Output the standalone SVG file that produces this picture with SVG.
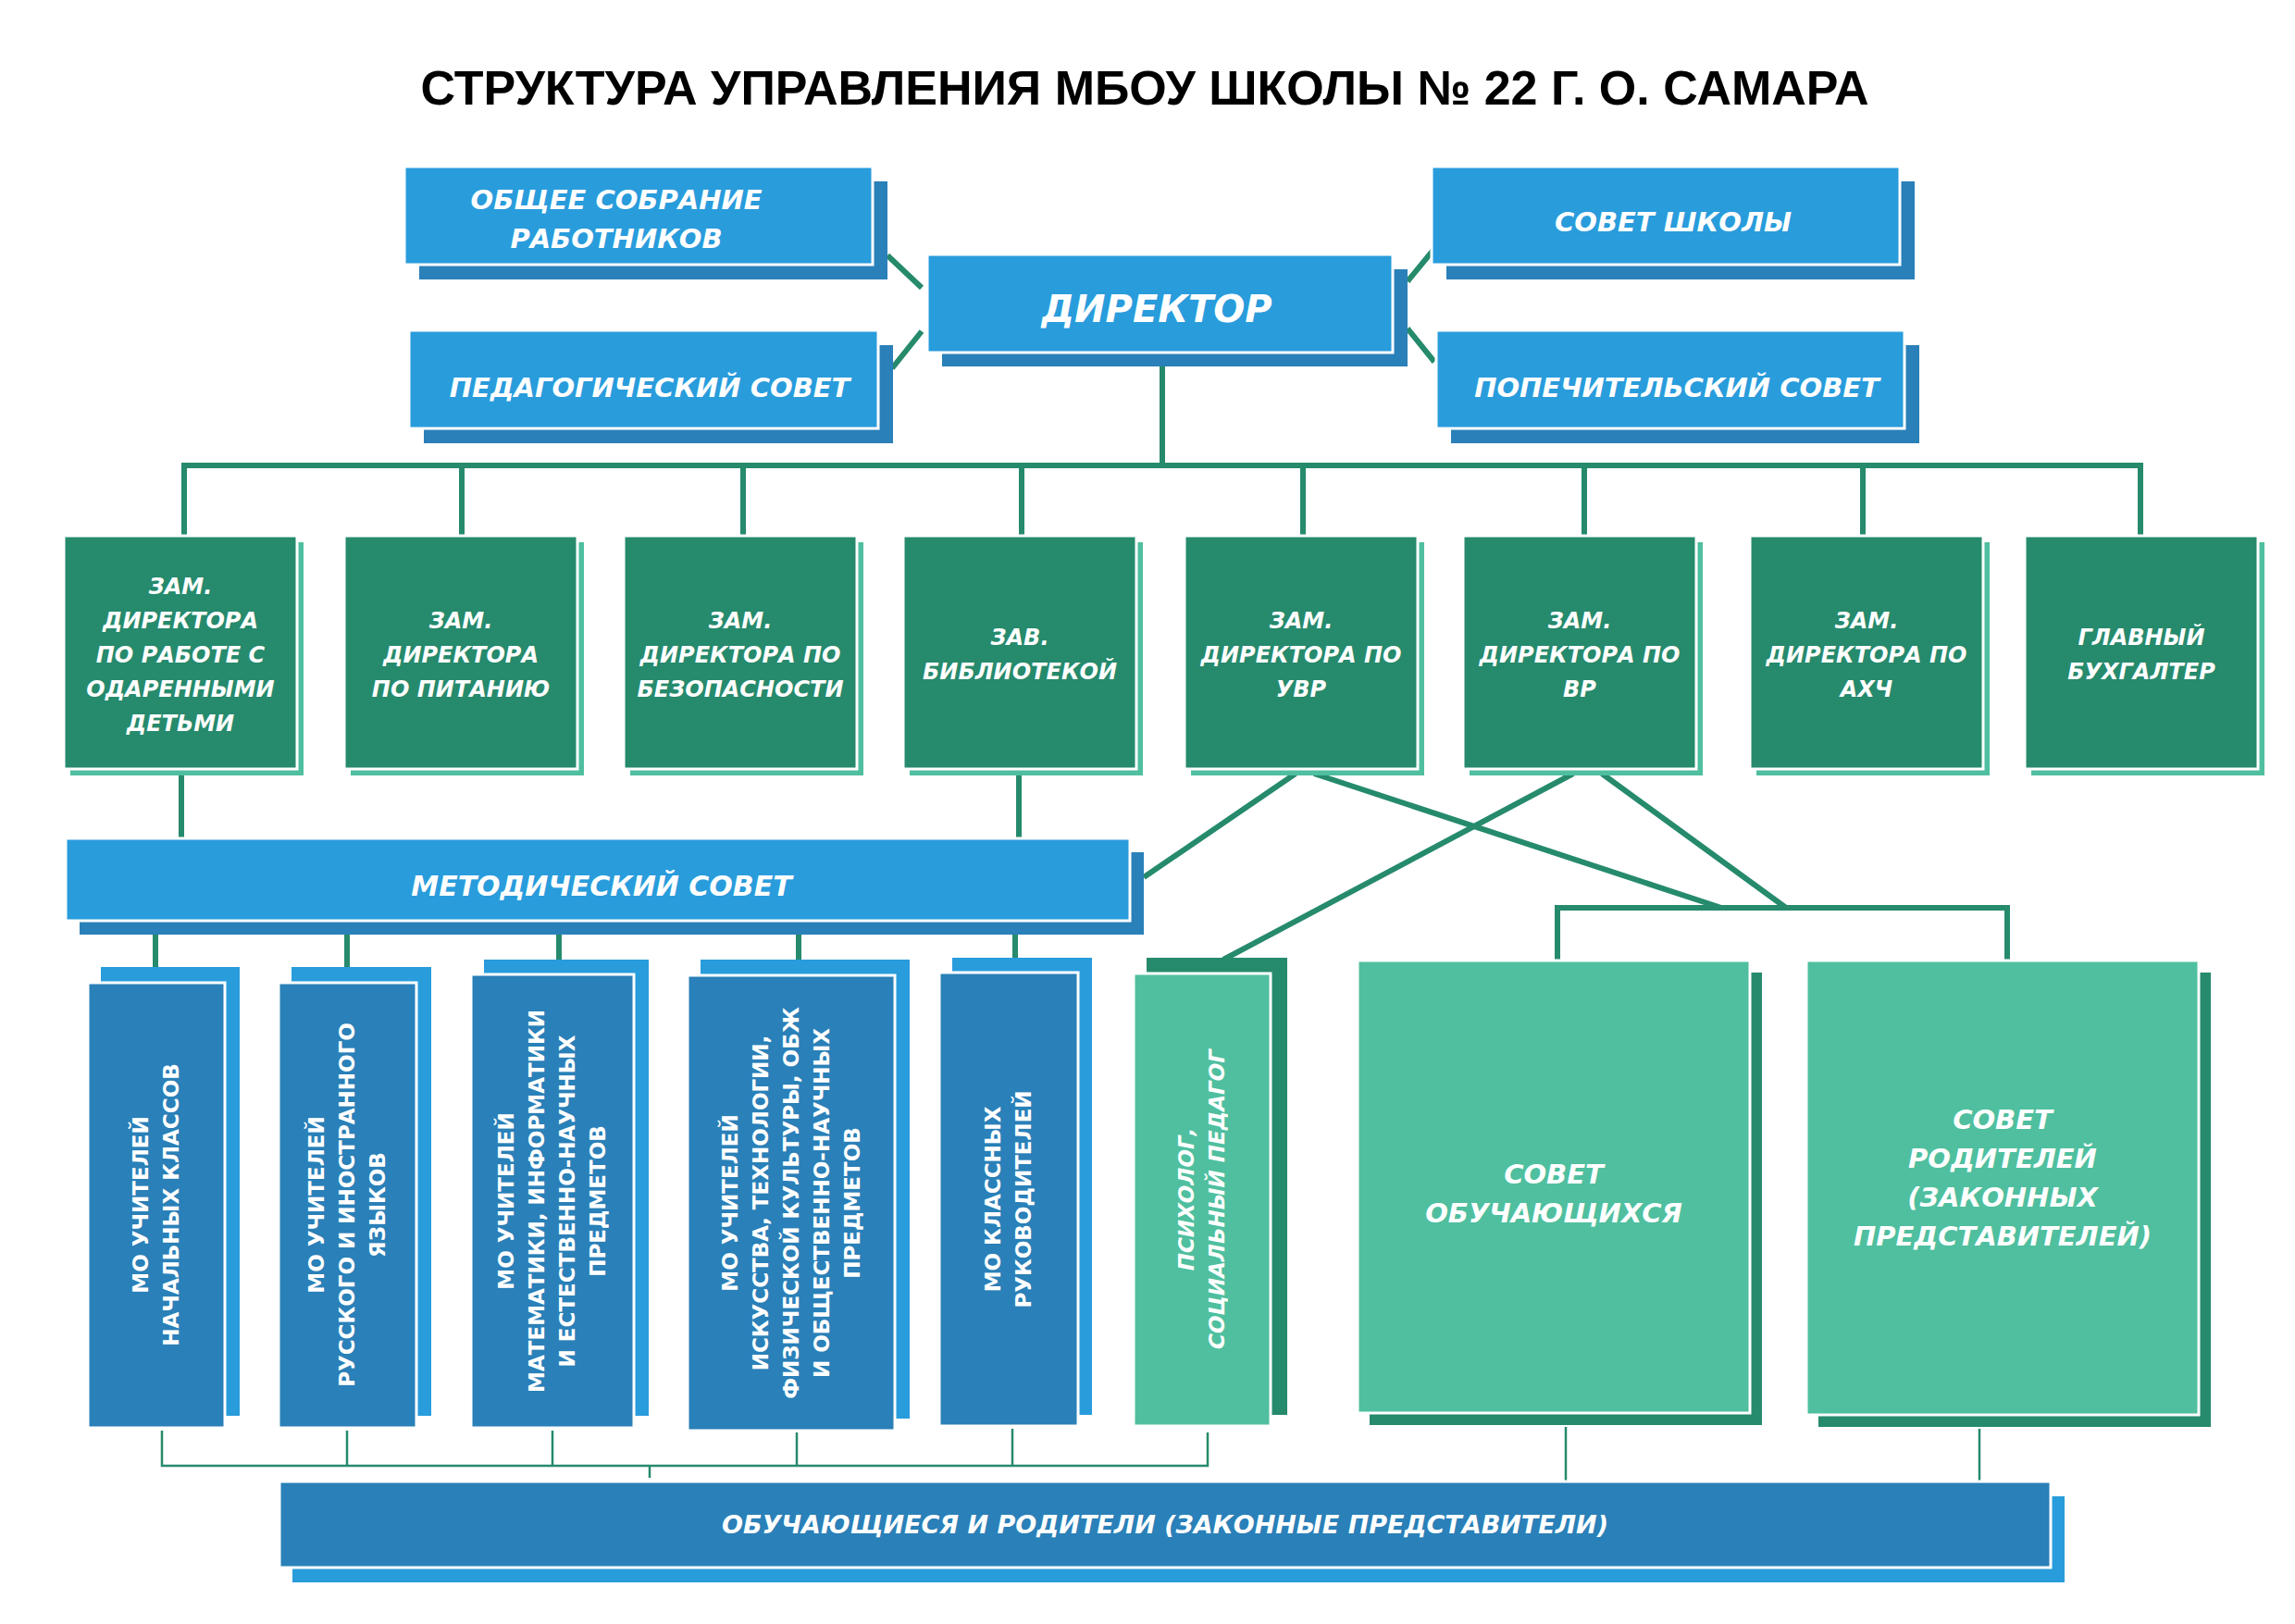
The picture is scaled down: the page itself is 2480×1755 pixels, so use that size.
<svg xmlns="http://www.w3.org/2000/svg" width="2480" height="1755" viewBox="0 0 2480 1755">
<style>
.lb{fill:#299cdc}
.db{fill:#2a80b8}
.gr{fill:#268a6d}
.lg{fill:#4fbf9f}
.f{stroke:#fff;stroke-width:3}
.t{font-family:"DejaVu Sans",sans-serif;font-weight:bold;font-style:italic;fill:#fff;text-anchor:middle}
.v{font-family:"DejaVu Sans",sans-serif;font-weight:bold;fill:#fff;text-anchor:middle;font-size:23px}
.c{fill:none;stroke:#268a6d;stroke-width:6}
.thin{fill:none;stroke:#268a6d;stroke-width:2.5}
</style>
<rect width="2480" height="1755" fill="#fff"/>
<text x="1237" y="113" font-family="Liberation Sans, Arial, sans-serif" font-weight="bold" font-size="52" text-anchor="middle" fill="#000">СТРУКТУРА УПРАВЛЕНИЯ МБОУ ШКОЛЫ № 22 Г. О. САМАРА</text>

<g id="connectors">
<path class="c" d="M959 276 L996 311 M964 398 L996 358 M1521 304 L1549 270 M1521 355 L1550 391"/>
<path class="c" d="M1256 381 V503 M199 503 H2313 M199 500 V579 M499 503 V579 M803 503 V579 M1104 503 V579 M1408 503 V579 M1712 503 V579 M2013 503 V579 M2313 500 V579"/>
<path class="c" d="M196 831 V906 M1101 831 V906"/>
<path class="c" d="M168 1010 V1045 M375 1010 V1045 M604 1010 V1037 M863 1010 V1037 M1097 1010 V1035"/>
<path class="c" d="M1400 836 L1236 948 M1420 836 L1860 981 M1700 836 L1322 1037 M1731 836 L1930 981 M1683 1038 V981 H2169 V1038"/>
<path class="thin" d="M175 1546 V1584 H1305 V1548 M375 1546 V1584 M597 1546 V1584 M861 1548 V1584 M1094 1544 V1584 M702 1584 V1597 M1692 1542 V1600 M2139 1544 V1600"/>
</g>

<g id="obshee"><rect class="db" x="453" y="196" width="506" height="106"/><rect class="lb f" x="437" y="180" width="506" height="106"/>
<text class="t" font-size="29"><tspan x="666" y="226">ОБЩЕЕ СОБРАНИЕ</tspan><tspan x="666" y="268">РАБОТНИКОВ</tspan></text></g>
<g id="pedsovet"><rect class="db" x="458" y="373" width="507" height="106"/><rect class="lb f" x="442" y="357" width="507" height="106"/>
<text class="t" font-size="29" x="702" y="429">ПЕДАГОГИЧЕСКИЙ СОВЕТ</text></g>
<g id="director"><rect class="db" x="1018" y="291" width="503" height="105"/><rect class="lb f" x="1002" y="275" width="503" height="106"/>
<text class="t" font-size="40" x="1250" y="348">ДИРЕКТОР</text></g>
<g id="sovet-shkoly"><rect class="db" x="1563" y="196" width="506" height="106"/><rect class="lb f" x="1547" y="180" width="506" height="106"/>
<text class="t" font-size="29" x="1808" y="250">СОВЕТ ШКОЛЫ</text></g>
<g id="popech"><rect class="db" x="1568" y="373" width="506" height="106"/><rect class="lb f" x="1552" y="357" width="506" height="106"/>
<text class="t" font-size="29" x="1812" y="429">ПОПЕЧИТЕЛЬСКИЙ СОВЕТ</text></g>

<g id="z1"><rect class="lg" x="76" y="586" width="252" height="252"/><rect class="gr f" x="69" y="579" width="252" height="252"/>
<text class="t" font-size="24"><tspan x="195" y="642">ЗАМ.</tspan><tspan x="195" y="679">ДИРЕКТОРА</tspan><tspan x="195" y="716">ПО РАБОТЕ С</tspan><tspan x="195" y="753">ОДАРЕННЫМИ</tspan><tspan x="195" y="790">ДЕТЬМИ</tspan></text></g>
<g id="z2"><rect class="lg" x="379" y="586" width="252" height="252"/><rect class="gr f" x="372" y="579" width="252" height="252"/>
<text class="t" font-size="24"><tspan x="498" y="679">ЗАМ.</tspan><tspan x="498" y="716">ДИРЕКТОРА</tspan><tspan x="498" y="753">ПО ПИТАНИЮ</tspan></text></g>
<g id="z3"><rect class="lg" x="681" y="586" width="252" height="252"/><rect class="gr f" x="674" y="579" width="252" height="252"/>
<text class="t" font-size="24"><tspan x="800" y="679">ЗАМ.</tspan><tspan x="800" y="716">ДИРЕКТОРА ПО</tspan><tspan x="800" y="753">БЕЗОПАСНОСТИ</tspan></text></g>
<g id="z4"><rect class="lg" x="983" y="586" width="252" height="252"/><rect class="gr f" x="976" y="579" width="252" height="252"/>
<text class="t" font-size="24"><tspan x="1102" y="697">ЗАВ.</tspan><tspan x="1102" y="734">БИБЛИОТЕКОЙ</tspan></text></g>
<g id="z5"><rect class="lg" x="1287" y="586" width="252" height="252"/><rect class="gr f" x="1280" y="579" width="252" height="252"/>
<text class="t" font-size="24"><tspan x="1406" y="679">ЗАМ.</tspan><tspan x="1406" y="716">ДИРЕКТОРА ПО</tspan><tspan x="1406" y="753">УВР</tspan></text></g>
<g id="z6"><rect class="lg" x="1588" y="586" width="252" height="252"/><rect class="gr f" x="1581" y="579" width="252" height="252"/>
<text class="t" font-size="24"><tspan x="1707" y="679">ЗАМ.</tspan><tspan x="1707" y="716">ДИРЕКТОРА ПО</tspan><tspan x="1707" y="753">ВР</tspan></text></g>
<g id="z7"><rect class="lg" x="1898" y="586" width="252" height="252"/><rect class="gr f" x="1891" y="579" width="252" height="252"/>
<text class="t" font-size="24"><tspan x="2017" y="679">ЗАМ.</tspan><tspan x="2017" y="716">ДИРЕКТОРА ПО</tspan><tspan x="2017" y="753">АХЧ</tspan></text></g>
<g id="z8"><rect class="lg" x="2195" y="586" width="252" height="252"/><rect class="gr f" x="2188" y="579" width="252" height="252"/>
<text class="t" font-size="24"><tspan x="2314" y="697">ГЛАВНЫЙ</tspan><tspan x="2314" y="734">БУХГАЛТЕР</tspan></text></g>

<g id="metod"><rect class="db" x="86" y="921" width="1150" height="89"/><rect class="lb f" x="71" y="906" width="1150" height="89"/>
<text class="t" font-size="30" x="650" y="968">МЕТОДИЧЕСКИЙ СОВЕТ</text></g>

<g id="mo1"><rect class="lb" x="109" y="1045" width="150" height="485"/><rect class="db f" x="95" y="1062" width="148" height="481"/>
<text class="v" transform="translate(169 1302) rotate(-90)"><tspan x="0" y="-9">МО УЧИТЕЛЕЙ</tspan><tspan x="0" y="24">НАЧАЛЬНЫХ КЛАССОВ</tspan></text></g>
<g id="mo2"><rect class="lb" x="315" y="1045" width="151" height="485"/><rect class="db f" x="301" y="1062" width="149" height="481"/>
<text class="v" transform="translate(375 1302) rotate(-90)"><tspan x="0" y="-25">МО УЧИТЕЛЕЙ</tspan><tspan x="0" y="8">РУССКОГО И ИНОСТРАННОГО</tspan><tspan x="0" y="41">ЯЗЫКОВ</tspan></text></g>
<g id="mo3"><rect class="lb" x="523" y="1037" width="178" height="493"/><rect class="db f" x="509" y="1053" width="176" height="490"/>
<text class="v" transform="translate(597 1298) rotate(-90)"><tspan x="0" y="-42">МО УЧИТЕЛЕЙ</tspan><tspan x="0" y="-9">МАТЕМАТИКИ, ИНФОРМАТИКИ</tspan><tspan x="0" y="24">И ЕСТЕСТВЕННО-НАУЧНЫХ</tspan><tspan x="0" y="57">ПРЕДМЕТОВ</tspan></text></g>
<g id="mo4"><rect class="lb" x="757" y="1037" width="226" height="496"/><rect class="db f" x="743" y="1054" width="224" height="492"/>
<text class="v" transform="translate(855 1300) rotate(-90)"><tspan x="0" y="-58">МО УЧИТЕЛЕЙ</tspan><tspan x="0" y="-25">ИСКУССТВА, ТЕХНОЛОГИИ,</tspan><tspan x="0" y="8">ФИЗИЧЕСКОЙ КУЛЬТУРЫ, ОБЖ</tspan><tspan x="0" y="41">И ОБЩЕСТВЕННО-НАУЧНЫХ</tspan><tspan x="0" y="74">ПРЕДМЕТОВ</tspan></text></g>
<g id="mo5"><rect class="lb" x="1029" y="1035" width="151" height="494"/><rect class="db f" x="1015" y="1051" width="150" height="490"/>
<text class="v" transform="translate(1090 1296) rotate(-90)"><tspan x="0" y="-9">МО КЛАССНЫХ</tspan><tspan x="0" y="24">РУКОВОДИТЕЛЕЙ</tspan></text></g>
<g id="psych"><rect class="gr" x="1239" y="1035" width="152" height="494"/><rect class="lg f" x="1225" y="1052" width="148" height="489"/>
<text class="t" font-size="23" transform="translate(1299 1296) rotate(-90)"><tspan x="0" y="-9">ПСИХОЛОГ,</tspan><tspan x="0" y="24">СОЦИАЛЬНЫЙ ПЕДАГОГ</tspan></text></g>

<g id="sovet-obuch"><rect class="gr" x="1480" y="1051" width="424" height="489"/><rect class="lg f" x="1467" y="1038" width="424" height="489"/>
<text class="t" font-size="29"><tspan x="1679" y="1279">СОВЕТ</tspan><tspan x="1679" y="1321">ОБУЧАЮЩИХСЯ</tspan></text></g>
<g id="sovet-rod"><rect class="gr" x="1965" y="1051" width="424" height="491"/><rect class="lg f" x="1952" y="1038" width="424" height="491"/>
<text class="t" font-size="29"><tspan x="2164" y="1220">СОВЕТ</tspan><tspan x="2164" y="1262">РОДИТЕЛЕЙ</tspan><tspan x="2164" y="1304">(ЗАКОННЫХ</tspan><tspan x="2164" y="1346">ПРЕДСТАВИТЕЛЕЙ)</tspan></text></g>

<g id="bottom"><rect class="lb" x="316" y="1617" width="1915" height="93"/><rect class="db f" x="302" y="1601" width="1914" height="93"/>
<text class="t" font-size="27" x="1259" y="1657">ОБУЧАЮЩИЕСЯ И РОДИТЕЛИ (ЗАКОННЫЕ ПРЕДСТАВИТЕЛИ)</text></g>
</svg>
